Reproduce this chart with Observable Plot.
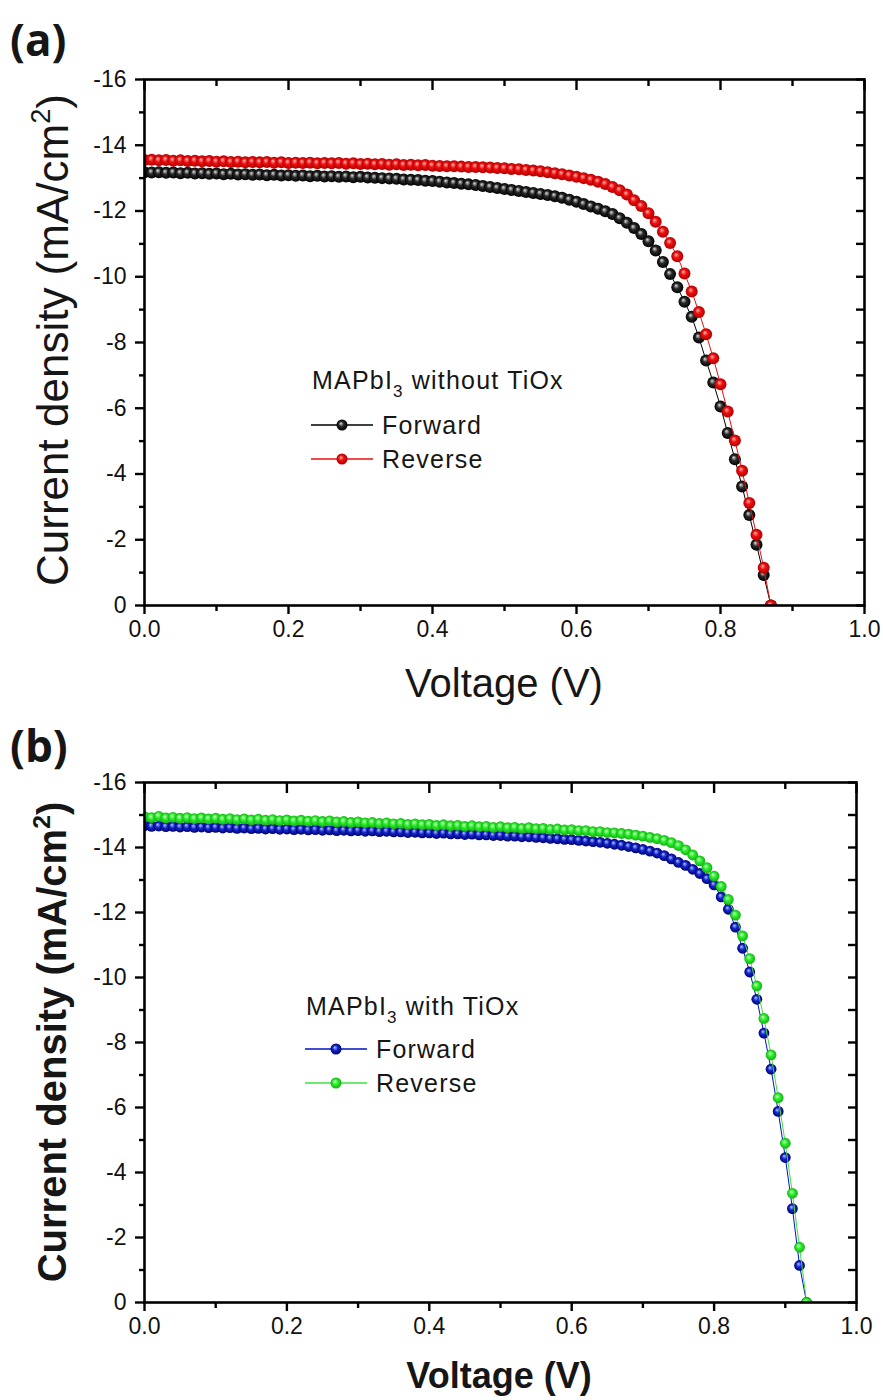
<!DOCTYPE html>
<html><head><meta charset="utf-8">
<script src="https://cdn.jsdelivr.net/npm/d3@7"></script>
<script src="https://cdn.jsdelivr.net/npm/@observablehq/plot@0.6"></script>
<style>
body{margin:0;background:#fff;}
#root{position:relative;width:883px;height:1400px;overflow:hidden;background:#fff;}
#root svg{position:absolute;left:0;}
</style>
</head><body><div id="root"></div>
<script>
// ---------- DATA ----------
const voltageA = [0.00,0.01,0.02,0.03,0.04,0.05,0.06,0.07,0.08,0.09,0.10,0.11,0.12,0.13,0.14,0.15,0.16,0.17,0.18,0.19,0.20,0.21,0.22,0.23,0.24,0.25,0.26,0.27,0.28,0.29,0.30,0.31,0.32,0.33,0.34,0.35,0.36,0.37,0.38,0.39,0.40,0.41,0.42,0.43,0.44,0.45,0.46,0.47,0.48,0.49,0.50,0.51,0.52,0.53,0.54,0.55,0.56,0.57,0.58,0.59,0.60,0.61,0.62,0.63,0.64,0.65,0.66,0.67,0.68,0.69,0.70,0.71,0.72,0.73,0.74,0.75,0.76,0.77,0.78,0.79,0.80,0.81,0.82,0.83,0.84,0.85,0.86,0.87];
const forwardA = [-13.18,-13.17,-13.18,-13.16,-13.17,-13.15,-13.16,-13.14,-13.15,-13.13,-13.14,-13.12,-13.13,-13.11,-13.12,-13.10,-13.11,-13.09,-13.10,-13.08,-13.09,-13.07,-13.08,-13.06,-13.07,-13.05,-13.06,-13.04,-13.05,-13.03,-13.04,-13.02,-13.01,-13.00,-12.99,-12.98,-12.96,-12.95,-12.94,-12.92,-12.91,-12.89,-12.87,-12.85,-12.83,-12.81,-12.79,-12.76,-12.73,-12.70,-12.67,-12.64,-12.61,-12.58,-12.55,-12.52,-12.49,-12.45,-12.40,-12.34,-12.28,-12.21,-12.14,-12.07,-11.99,-11.91,-11.78,-11.64,-11.48,-11.30,-11.08,-10.80,-10.45,-10.08,-9.68,-9.24,-8.78,-8.15,-7.45,-6.78,-6.05,-5.25,-4.45,-3.62,-2.75,-1.85,-0.93,0.00];
const reverseA = [-13.55,-13.56,-13.54,-13.55,-13.53,-13.54,-13.52,-13.53,-13.51,-13.52,-13.50,-13.51,-13.49,-13.50,-13.48,-13.49,-13.48,-13.49,-13.47,-13.48,-13.46,-13.47,-13.46,-13.47,-13.45,-13.46,-13.45,-13.46,-13.44,-13.45,-13.43,-13.44,-13.42,-13.43,-13.41,-13.42,-13.40,-13.41,-13.39,-13.40,-13.38,-13.37,-13.36,-13.36,-13.35,-13.34,-13.34,-13.33,-13.32,-13.31,-13.30,-13.28,-13.27,-13.25,-13.23,-13.21,-13.18,-13.15,-13.12,-13.08,-13.04,-13.00,-12.95,-12.89,-12.82,-12.73,-12.63,-12.50,-12.33,-12.15,-11.93,-11.67,-11.37,-11.03,-10.62,-10.10,-9.55,-8.93,-8.25,-7.52,-6.73,-5.90,-5.02,-4.10,-3.12,-2.15,-1.15,0.00];

const voltageB = [0.00,0.01,0.02,0.03,0.04,0.05,0.06,0.07,0.08,0.09,0.10,0.11,0.12,0.13,0.14,0.15,0.16,0.17,0.18,0.19,0.20,0.21,0.22,0.23,0.24,0.25,0.26,0.27,0.28,0.29,0.30,0.31,0.32,0.33,0.34,0.35,0.36,0.37,0.38,0.39,0.40,0.41,0.42,0.43,0.44,0.45,0.46,0.47,0.48,0.49,0.50,0.51,0.52,0.53,0.54,0.55,0.56,0.57,0.58,0.59,0.60,0.61,0.62,0.63,0.64,0.65,0.66,0.67,0.68,0.69,0.70,0.71,0.72,0.73,0.74,0.75,0.76,0.77,0.78,0.79,0.80,0.81,0.82,0.83,0.84,0.85,0.86,0.87,0.88,0.89,0.90,0.91,0.92,0.93];
const forwardB = [-14.67,-14.65,-14.66,-14.64,-14.65,-14.63,-14.64,-14.62,-14.63,-14.61,-14.62,-14.60,-14.61,-14.59,-14.60,-14.58,-14.59,-14.57,-14.58,-14.56,-14.57,-14.55,-14.56,-14.54,-14.55,-14.53,-14.54,-14.52,-14.53,-14.51,-14.52,-14.50,-14.51,-14.49,-14.50,-14.48,-14.48,-14.46,-14.47,-14.45,-14.45,-14.43,-14.44,-14.42,-14.42,-14.40,-14.41,-14.39,-14.39,-14.37,-14.37,-14.35,-14.35,-14.33,-14.33,-14.31,-14.30,-14.28,-14.27,-14.25,-14.24,-14.22,-14.20,-14.18,-14.16,-14.13,-14.10,-14.07,-14.03,-13.99,-13.94,-13.89,-13.83,-13.75,-13.65,-13.54,-13.45,-13.33,-13.20,-13.04,-12.85,-12.48,-12.10,-11.55,-10.90,-10.17,-9.33,-8.29,-7.18,-5.88,-4.46,-2.89,-1.14,0.00];
const reverseB = [-14.95,-14.92,-14.96,-14.91,-14.93,-14.90,-14.92,-14.89,-14.91,-14.88,-14.90,-14.87,-14.89,-14.86,-14.88,-14.85,-14.87,-14.84,-14.86,-14.83,-14.85,-14.82,-14.84,-14.81,-14.83,-14.80,-14.82,-14.79,-14.80,-14.77,-14.79,-14.76,-14.77,-14.74,-14.76,-14.73,-14.74,-14.71,-14.73,-14.70,-14.71,-14.68,-14.70,-14.67,-14.68,-14.65,-14.67,-14.64,-14.65,-14.62,-14.64,-14.61,-14.62,-14.59,-14.61,-14.58,-14.59,-14.56,-14.57,-14.54,-14.55,-14.52,-14.52,-14.49,-14.49,-14.46,-14.45,-14.43,-14.41,-14.38,-14.35,-14.31,-14.27,-14.22,-14.15,-14.06,-13.93,-13.77,-13.59,-13.38,-13.12,-12.80,-12.40,-11.92,-11.28,-10.58,-9.74,-8.74,-7.62,-6.30,-4.90,-3.36,-1.70,0.00];

const yMajorTicks = [-16,-14,-12,-10,-8,-6,-4,-2,0];
const yMinorTicks = [-15,-13,-11,-9,-7,-5,-3,-1];
const xMajorTicks = [0,0.2,0.4,0.6,0.8,1.0];
const xMinorTicks = [0.1,0.3,0.5,0.7,0.9];
const seriesNames = ["Forward","Reverse"];

// ---------- helpers ----------
const root = d3.select("#root");
const FONT = "'Liberation Sans', Arial, sans-serif";
const rows = (v, j) => v.map((x, i) => ({V: x, J: j[i]}));

const overlay = root.append("svg").attr("width", 883).attr("height", 1400)
  .style("top", "0px").style("z-index", 5).style("pointer-events", "none");
const defs = overlay.append("defs");
function ball(id, hi, mid, dark) {
  const g = defs.append("radialGradient").attr("id", id)
    .attr("cx", 0.5).attr("cy", 0.5).attr("r", 0.5).attr("fx", 0.38).attr("fy", 0.34);
  g.append("stop").attr("offset", 0).attr("stop-color", hi);
  g.append("stop").attr("offset", 0.45).attr("stop-color", mid);
  g.append("stop").attr("offset", 1).attr("stop-color", dark);
}
ball("ballBlack", "#e0e0e0", "#2a2a2a", "#000000");
ball("ballRed", "#ffb8b8", "#f01010", "#b00000");
ball("ballBlue", "#b8c8ff", "#1428d0", "#00006e");
ball("ballGreen", "#d8ffd0", "#2ef02e", "#14b014");

function panel({top, height, marginTop, marginBottom, marginRight, fwd, rev, fwdColor, revColor, fwdBall, revBall, r}) {
  const axisCommon = {stroke: "#000", strokeWidth: 2.4, label: null};
  const chart = Plot.plot({
    width: 883, height,
    marginLeft: 144, marginRight, marginTop, marginBottom,
    style: {fontFamily: FONT, background: "transparent", overflow: "visible"},
    x: {domain: [0, 1]},
    y: {domain: [0, -16]},
    marks: [
      Plot.line(fwd, {x: "V", y: "J", stroke: fwdColor, strokeWidth: 1, clip: true}),
      Plot.dot(fwd, {x: "V", y: "J", r, fill: fwdColor, stroke: "none", clip: true, className: "ball-fwd"}),
      Plot.line(rev, {x: "V", y: "J", stroke: revColor, strokeWidth: 1, clip: true}),
      Plot.dot(rev, {x: "V", y: "J", r, fill: revColor, stroke: "none", clip: true, className: "ball-rev"}),
      Plot.frame({stroke: "#000", strokeWidth: 2.6}),
      Plot.axisY(yMajorTicks, {...axisCommon, anchor: "left", tickSize: 9, tickPadding: 9,
        tickFormat: d => String(d), fontSize: 23, fill: "#111"}),
      Plot.axisY(yMinorTicks, {...axisCommon, anchor: "left", tickSize: 5, fill: "none"}),
      Plot.axisY(yMajorTicks.concat(yMinorTicks), {...axisCommon, anchor: "right", tickSize: 9, dx: -9, fill: "none"}),
      Plot.axisX(xMajorTicks, {...axisCommon, anchor: "bottom", tickSize: 9, tickPadding: 6,
        tickFormat: d3.format(".1f"), fontSize: 23, fill: "#111"}),
      Plot.axisX(xMinorTicks, {...axisCommon, anchor: "bottom", tickSize: 6, fill: "none"}),
      Plot.axisX(xMajorTicks, {...axisCommon, anchor: "top", tickSize: 10, dy: 10, fill: "none"}),
      Plot.axisX(xMinorTicks, {...axisCommon, anchor: "top", tickSize: 6, dy: 6, fill: "none"})
    ]
  });
  const s = d3.select(chart);
  s.selectAll(".ball-fwd circle").attr("fill", `url(#${fwdBall})`);
  s.selectAll(".ball-rev circle").attr("fill", `url(#${revBall})`);
  s.style("top", top + "px");
  root.node().insertBefore(chart, overlay.node());
}

panel({top: 0, height: 700, marginTop: 79, marginBottom: 95, marginRight: 19,
  fwd: rows(voltageA, forwardA), rev: rows(voltageA, reverseA),
  fwdColor: "#000000", revColor: "#e81010", fwdBall: "ballBlack", revBall: "ballRed", r: 6});
panel({top: 700, height: 700, marginTop: 82, marginBottom: 98, marginRight: 27,
  fwd: rows(voltageB, forwardB), rev: rows(voltageB, reverseB),
  fwdColor: "#0010c8", revColor: "#3ee03e", fwdBall: "ballBlue", revBall: "ballGreen", r: 5.4});

// ---------- texts ----------
const txt = "#161616";
function label(x, y, t, size) {
  overlay.append("text").attr("x", x).attr("y", y).text(t)
    .attr("font-family", "'Open Sans', 'Liberation Sans', sans-serif").attr("font-weight", 700)
    .attr("font-size", size).attr("fill", txt);
}
label(10, 56, "(a)", 44);
label(10, 762, "(b)", 44);

function yTitle(x, y, size, weight) {
  const t = overlay.append("text").attr("transform", `translate(${x},${y}) rotate(-90)`)
    .attr("text-anchor", "middle").attr("font-family", FONT).attr("font-size", size)
    .attr("font-weight", weight).attr("fill", txt);
  t.append("tspan").text("Current density (mA/cm");
  t.append("tspan").text("2").attr("font-size", size * 0.62).attr("dy", -size * 0.4);
  t.append("tspan").text(")").attr("dy", size * 0.4);
}
yTitle(68, 340, 44, 400);
yTitle(66, 1042, 40, 700);

function xTitle(x, y, size, weight) {
  overlay.append("text").attr("x", x).attr("y", y).attr("text-anchor", "middle")
    .attr("font-family", FONT).attr("font-size", size).attr("font-weight", weight)
    .attr("fill", txt).text("Voltage (V)");
}
xTitle(504, 697, 40, 400);
xTitle(499, 1388, 36, 700);

function legend({x, titleY, rowY, title, colors, balls, r}) {
  const t = overlay.append("text").attr("x", x + 1).attr("y", titleY)
    .attr("font-family", FONT).attr("font-size", 25).attr("letter-spacing", 1.2).attr("fill", txt);
  t.append("tspan").text("MAPbI");
  t.append("tspan").text("3").attr("font-size", 17).attr("dy", 8);
  t.append("tspan").text(title).attr("dy", -8);
  seriesNames.forEach((name, i) => {
    const y = rowY[i];
    overlay.append("line").attr("x1", x).attr("x2", x + 62).attr("y1", y).attr("y2", y)
      .attr("stroke", colors[i]).attr("stroke-width", 1.3);
    overlay.append("circle").attr("cx", x + 31).attr("cy", y).attr("r", r)
      .attr("fill", `url(#${balls[i]})`);
    overlay.append("text").attr("x", x + 71).attr("y", y + 9)
      .attr("font-family", FONT).attr("font-size", 25).attr("letter-spacing", 1.2)
      .attr("fill", txt).text(name);
  });
}
legend({x: 311, titleY: 389, rowY: [425, 459], title: " without TiOx",
  colors: ["#000000", "#e81010"], balls: ["ballBlack", "ballRed"], r: 5.5});
legend({x: 305, titleY: 1015, rowY: [1049, 1083], title: " with TiOx",
  colors: ["#0010c8", "#3ee03e"], balls: ["ballBlue", "ballGreen"], r: 5.5});
</script>
</body></html>
